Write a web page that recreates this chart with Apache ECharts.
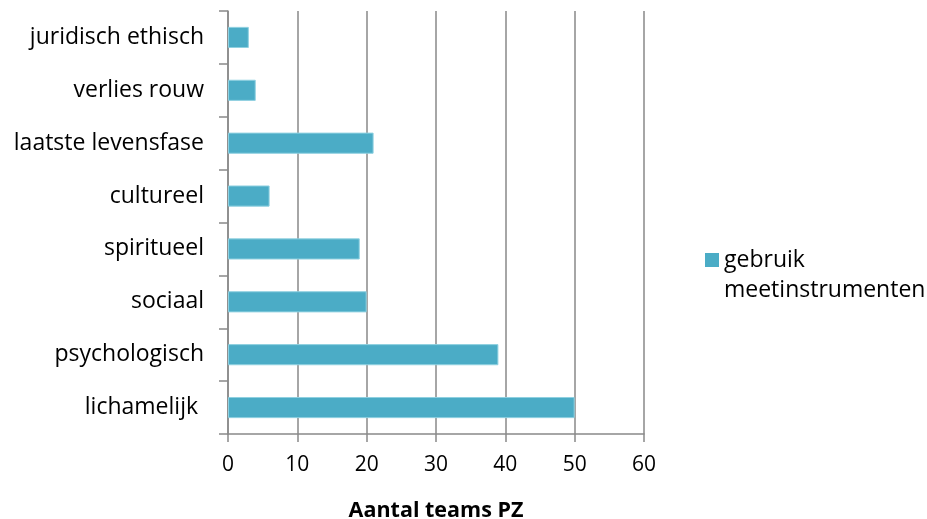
<!DOCTYPE html>
<html>
<head>
<meta charset="utf-8">
<script src="https://cdn.jsdelivr.net/npm/echarts@6/dist/echarts.min.js"></script>
<style>
  html, body { margin: 0; padding: 0; background: #fff; }
  #chart { width: 927px; height: 519px; }
</style>
</head>
<body>
<div id="chart"></div>
<script>
// Domains, listed bottom to top
const categories = ['lichamelijk ', 'psychologisch', 'sociaal', 'spiritueel', 'cultureel', 'laatste levensfase', 'verlies rouw', 'juridisch ethisch'];
const teamCounts = [50, 39, 20, 19, 6, 21, 4, 3];
const seriesName = 'gebruik\nmeetinstrumenten';
const axisTitle = 'Aantal teams PZ';

const font = '"Open Sans", "Liberation Sans", sans-serif';
const gridColor = '#898989';
const barColor = '#4BACC6';

const chart = echarts.init(document.getElementById('chart'), null, { renderer: 'canvas' });
chart.setOption({
  animation: false,
  backgroundColor: '#ffffff',
  grid: { left: 228, right: 283, top: 11, bottom: 85, containLabel: false, outerBoundsMode: 'none' },
  legend: {
    show: true,
    left: 700,
    top: 210,
    orient: 'vertical',
    icon: 'rect',
    itemWidth: 14,
    itemHeight: 14,
    itemGap: 6,
    itemStyle: { color: barColor, borderWidth: 0 },
    // a blank leading line keeps the swatch level with the first word
    formatter: name => ' \n' + name,
    textStyle: { fontFamily: font, fontSize: 23, color: '#000', lineHeight: 30 },
    data: [seriesName]
  },
  xAxis: {
    type: 'value',
    min: 0,
    max: 60,
    interval: 10,
    name: axisTitle,
    nameLocation: 'middle',
    nameGap: 66,
    nameTextStyle: { fontFamily: font, fontSize: 21.5, fontWeight: 'bold', color: '#000' },
    axisLine: { show: true, lineStyle: { color: gridColor, width: 1.5 } },
    axisTick: { show: true, length: 8, lineStyle: { color: gridColor, width: 1.5 } },
    axisLabel: { fontFamily: font, fontSize: 21, color: '#000', margin: 21 },
    splitLine: { show: true, lineStyle: { color: gridColor, width: 1.5 } }
  },
  yAxis: {
    type: 'category',
    data: categories,
    axisLine: { show: true, lineStyle: { color: gridColor, width: 1.5 } },
    axisTick: { show: true, inside: false, length: 9, alignWithLabel: false, lineStyle: { color: gridColor, width: 1.5 } },
    axisLabel: { fontFamily: font, fontSize: 23, color: '#000', margin: 24 },
    splitLine: { show: false }
  },
  series: [{
    name: seriesName,
    type: 'bar',
    data: teamCounts,
    barWidth: '40%',
    itemStyle: { color: barColor, borderColor: '#8fd0e0', borderWidth: 1 }
  }]
});
</script>
</body>
</html>
